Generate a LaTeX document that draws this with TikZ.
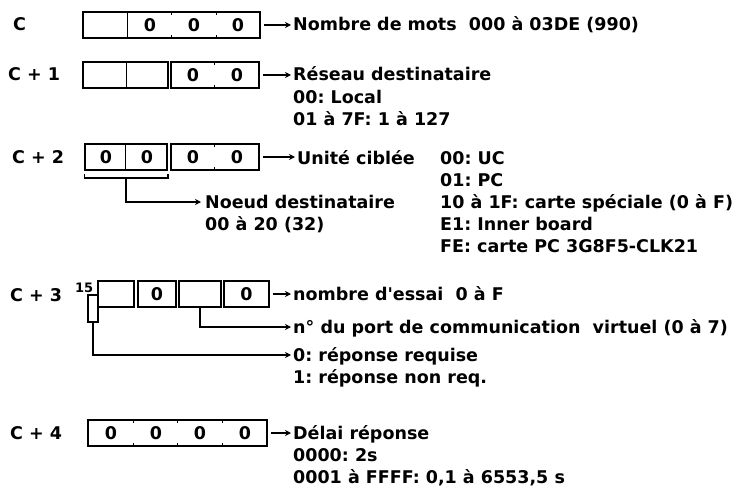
\documentclass[tikz,border=0pt]{standalone}
\usepackage{fontspec}
\setmainfont{DejaVu Sans}
\usetikzlibrary{arrows.meta}

\begin{document}
\frenchspacing
\begin{tikzpicture}[
    x=1pt, y=-1pt,
    font=\fontsize{17.5}{22}\selectfont\bfseries,
    >={Stealth[length=6pt,width=6pt]},
    cell/.style={
        draw,
        line width=1.5pt,
        minimum height=26pt,
        inner sep=0pt
    },
    digit/.style={
        inner sep=0pt
    },
    word/.style={
        anchor=base west,
        inner sep=0pt
    },
    arrow/.style={
        ->,
        line width=1.3pt
    },
    wire/.style={
        line width=1.5pt
    }
]
    \useasboundingbox (0,0) rectangle (738,487);

    % Word C
    \node[word] (lc0) at (13,31) {C};
    \node[cell, minimum width=177pt] (c0box) at (171.5,25) {};
    \draw[wire] (c0box.north west) ++(45,0) -- ++(0,26);
    \draw[wire] (c0box.north west) ++(89,0) -- ++(0,4);
    \draw[wire] (c0box.south west) ++(89,0) -- ++(0,-4);
    \draw[wire] (c0box.north west) ++(134,0) -- ++(0,4);
    \draw[wire] (c0box.south west) ++(134,0) -- ++(0,-4);
    \node[digit] (c0d1) at (150,25) {0};
    \node[digit] (c0d2) at (194,25) {0};
    \node[digit] (c0d3) at (238,25) {0};
    \node[word] (c0t1) at (293,31) {Nombre de mots\ \ 000 à 03DE (990)};
    \draw[arrow] ([xshift=3pt]c0box.east) -- ([xshift=-2pt]c0box.east -| c0t1.west);

    % Word C+1
    \node[word] (lc1) at (8,81) {C + 1};
    \node[cell, minimum width=85pt] (c1boxa) at (125.5,75) {};
    \node[cell, minimum width=88pt] (c1boxb) at (215,75) {};
    \draw[wire] (c1boxa.north west) ++(44,0) -- ++(0,26);
    \draw[wire] (c1boxb.north west) ++(44,0) -- ++(0,4);
    \draw[wire] (c1boxb.south west) ++(44,0) -- ++(0,-4);
    \node[digit] (c1d1) at (193,75) {0};
    \node[digit] (c1d2) at (237,75) {0};
    \node[word] (c1t1) at (293,81) {Réseau destinataire};
    \node[word] (c1t2) at (293,103) {00: Local};
    \node[word] (c1t3) at (293,125) {01 à 7F: 1 à 127};
    \draw[arrow] ([xshift=3pt]c1boxb.east) -- ([xshift=-2pt]c1boxb.east -| c1t1.west);

    % Word C+2
    \node[word] (lc2) at (12,163) {C + 2};
    \node[cell, minimum width=82pt] (c2boxa) at (126,157) {};
    \node[cell, minimum width=88pt] (c2boxb) at (215,157) {};
    \draw[wire] (c2boxa.north west) ++(41,0) -- ++(0,26);
    \draw[wire] (c2boxb.north west) ++(44,0) -- ++(0,4);
    \draw[wire] (c2boxb.south west) ++(44,0) -- ++(0,-4);
    \node[digit] (c2d1) at (106,157) {0};
    \node[digit] (c2d2) at (147,157) {0};
    \node[digit] (c2d3) at (193,157) {0};
    \node[digit] (c2d4) at (237,157) {0};
    \node[word] (c2t1) at (297,164) {Unité ciblée};
    \node[word] (c2r1) at (440,164) {00: UC};
    \node[word] (c2r2) at (440,186) {01: PC};
    \node[word] (c2r3) at (440,208) {10 à 1F: carte spéciale (0 à F)};
    \node[word] (c2r4) at (440,230) {E1: Inner board};
    \node[word] (c2r5) at (440,252) {FE: carte PC 3G8F5-CLK21};
    \draw[arrow] ([xshift=3pt]c2boxb.east) -- ([xshift=-2pt]c2boxb.east -| c2t1.west);

    % node bracket
    \coordinate (brace) at ([yshift=-7pt]c2boxa.south);
    \node[word] (c2n1) at (205,208) {Noeud destinataire};
    \node[word] (c2n2) at (205,230) {00 à 20 (32)};
    \draw[wire] ([yshift=-3pt]c2boxa.south west) |- (brace) -| ([yshift=-3pt]c2boxa.south east);
    \draw[arrow] (brace) |- ([yshift=6pt,xshift=-4pt]c2n1.base west);

    % Word C+3
    \node[word] (lc3) at (10,301) {C + 3};
    \node[cell, minimum width=36pt] (c3boxa) at (116,294) {};
    \node[cell, minimum width=38pt] (c3boxb) at (157,294) {};
    \node[cell, minimum width=42pt] (c3boxc) at (200,294) {};
    \node[cell, minimum width=45pt] (c3boxd) at (246.5,294) {};
    \node[cell, minimum width=10pt, minimum height=27pt] (bit15) at (93,308.5) {};
    \node[word, font=\fontsize{13}{15}\selectfont\bfseries] (l15) at (75,292) {15};
    \node[digit] (c3d1) at (157,294) {0};
    \node[digit] (c3d2) at (246.5,294) {0};
    \node[word] (c3t1) at (293,300) {nombre d\textquotesingle essai\ \ 0 à F};
    \node[word] (c3t2) at (293,333) {n° du port de communication\ \ virtuel (0 à 7)};
    \node[word] (c3t3) at (293,361) {0: réponse requise};
    \node[word] (c3t4) at (293,383) {1: réponse non req.};
    \draw[arrow] ([xshift=3pt]c3boxd.east) -- ([xshift=-2pt]c3boxd.east -| c3t1.west);
    \draw[arrow] (c3boxc.south) |- ([yshift=6pt,xshift=-2pt]c3t2.base west);
    \draw[arrow] (bit15.south) |- ([yshift=6pt,xshift=-2pt]c3t3.base west);

    % Word C+4
    \node[word] (lc4) at (10,439) {C + 4};
    \node[cell, minimum width=179pt] (c4box) at (177.5,433) {};
    \draw[wire] (c4box.north west) ++(46,0) -- ++(0,4);
    \draw[wire] (c4box.south west) ++(46,0) -- ++(0,-4);
    \draw[wire] (c4box.north west) ++(90,0) -- ++(0,4);
    \draw[wire] (c4box.south west) ++(90,0) -- ++(0,-4);
    \draw[wire] (c4box.north west) ++(135,0) -- ++(0,4);
    \draw[wire] (c4box.south west) ++(135,0) -- ++(0,-4);
    \node[digit] (c4d1) at (111,433) {0};
    \node[digit] (c4d2) at (156,433) {0};
    \node[digit] (c4d3) at (200,433) {0};
    \node[digit] (c4d4) at (245,433) {0};
    \node[word] (c4t1) at (293,439) {Délai réponse};
    \node[word] (c4t2) at (293,461) {0000: 2s};
    \node[word] (c4t3) at (293,483) {0001 à FFFF: 0,1 à 6553,5 s};
    \draw[arrow] ([xshift=3pt]c4box.east) -- ([xshift=-2pt]c4box.east -| c4t1.west);

\end{tikzpicture}
\end{document}
